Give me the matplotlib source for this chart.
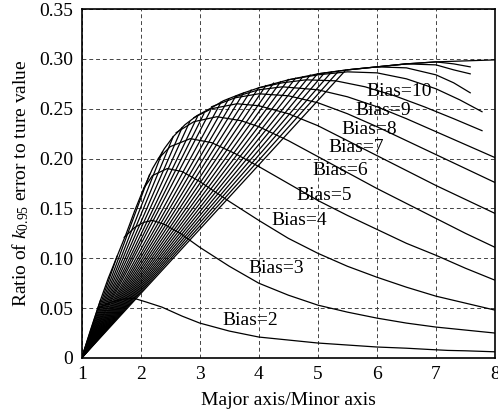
import matplotlib
matplotlib.use("Agg")
import matplotlib.pyplot as plt

plt.rcParams['font.family'] = 'Liberation Serif'
plt.rcParams['mathtext.fontset'] = 'custom'
plt.rcParams['mathtext.rm'] = 'Liberation Serif'
plt.rcParams['mathtext.it'] = 'Liberation Serif:italic'
plt.rcParams['font.size'] = 14

# upper envelope
env_x = [1.0, 1.15, 1.3, 1.45, 1.6, 1.75, 1.9, 2.05, 2.2, 2.4, 2.55, 2.75, 2.95, 3.2, 3.4,
         3.7, 4.0, 4.5, 5.0, 5.5, 6.0, 6.5, 7.0, 7.5, 8.0]
env_y = [0.0, 0.028, 0.055, 0.08, 0.102, 0.124, 0.148, 0.17, 0.19, 0.21, 0.222, 0.234, 0.243,
         0.251, 0.258, 0.265, 0.271, 0.279, 0.285, 0.289, 0.292, 0.295, 0.297, 0.298, 0.299]

# fan lines from (1, 0) to the envelope
fan_end_x = [1.32, 1.6, 2.15, 2.37, 2.55, 2.7, 2.83, 2.96, 3.07, 3.18, 3.36, 3.49, 3.61, 3.74,
             3.87, 3.99, 4.12, 4.25, 4.37, 4.5, 4.62, 4.74, 4.87, 4.99, 5.11, 5.23, 5.35, 5.47]
fan_end_y = [0.058, 0.102, 0.184, 0.207, 0.222, 0.231, 0.237, 0.242, 0.245, 0.248, 0.2565,
             0.26, 0.2626, 0.2658, 0.2687, 0.2706, 0.2732, 0.2757, 0.2771, 0.2793, 0.2806,
             0.2818, 0.2837, 0.2848, 0.2858, 0.2868, 0.2877, 0.2886]

# curves per bias
b2_x = [1.28, 1.5, 1.7, 1.88, 2.1, 2.36, 2.7, 3.0, 3.5, 4.0, 4.5, 5.0, 5.5, 6.0, 6.5, 6.9, 7.2, 7.5, 8.0]
b2_y = [0.050, 0.056, 0.059, 0.060, 0.056, 0.051, 0.042, 0.035, 0.027, 0.021, 0.018, 0.015,
        0.013, 0.011, 0.0098, 0.0085, 0.0076, 0.0072, 0.0062]
b3_x = [1.72, 1.9, 2.05, 2.2, 2.4, 2.67, 3.0, 3.5, 4.0, 4.5, 5.0, 5.5, 6.0, 6.5, 7.0, 7.5, 8.0]
b3_y = [0.121, 0.131, 0.136, 0.138, 0.134, 0.125, 0.111, 0.092, 0.075, 0.063, 0.053, 0.046,
        0.040, 0.035, 0.031, 0.028, 0.025]
b4_x = [2.05, 2.2, 2.45, 2.7, 3.0, 3.5, 4.0, 4.5, 5.0, 5.5, 6.0, 6.5, 7.0, 7.5, 8.0]
b4_y = [0.170, 0.183, 0.190, 0.187, 0.177, 0.157, 0.138, 0.120, 0.105, 0.092, 0.081, 0.071,
        0.062, 0.055, 0.048]
b5_x = [2.3, 2.5, 2.84, 3.2, 3.6, 4.0, 4.5, 5.0, 5.5, 6.0, 6.5, 7.0, 7.5, 8.0]
b5_y = [0.200, 0.212, 0.220, 0.216, 0.205, 0.192, 0.175, 0.158, 0.143, 0.129, 0.115, 0.103,
        0.090, 0.078]
b6_x = [2.6, 2.9, 3.29, 3.7, 4.0, 4.5, 5.0, 5.5, 6.0, 6.5, 7.0, 7.5, 8.0]
b6_y = [0.226, 0.237, 0.242, 0.238, 0.232, 0.218, 0.202, 0.186, 0.170, 0.155, 0.140, 0.125, 0.111]
b7_x = [2.9, 3.2, 3.63, 4.0, 4.5, 5.0, 5.5, 6.0, 6.5, 7.0, 7.5, 8.0]
b7_y = [0.241, 0.250, 0.255, 0.253, 0.245, 0.233, 0.218, 0.203, 0.188, 0.173, 0.159, 0.145]
b8_x = [3.2, 3.6, 4.0, 4.5, 5.0, 5.5, 6.0, 6.5, 7.0, 7.5, 8.0]
b8_y = [0.252, 0.261, 0.265, 0.263, 0.256, 0.245, 0.232, 0.218, 0.204, 0.19, 0.176]
b9_x = [3.6, 4.0, 4.4, 5.0, 5.5, 6.0, 6.5, 7.0, 7.5, 8.0]
b9_y = [0.262, 0.269, 0.272, 0.269, 0.262, 0.252, 0.24, 0.227, 0.214, 0.201]
b10_x = [4.0, 4.4, 4.8, 5.3, 5.8, 6.3, 6.8, 7.3, 7.78]
b10_y = [0.271, 0.276, 0.279, 0.278, 0.272, 0.263, 0.252, 0.24, 0.228]
b11_x = [4.5, 5.0, 5.5, 6.0, 6.5, 7.0, 7.4, 7.78]
b11_y = [0.279, 0.284, 0.287, 0.286, 0.280, 0.270, 0.259, 0.247]
b12_x = [5.0, 5.5, 6.0, 6.5, 7.0, 7.3, 7.58]
b12_y = [0.285, 0.289, 0.292, 0.291, 0.284, 0.276, 0.266]
b13_x = [5.5, 6.0, 6.5, 7.0, 7.3, 7.58]
b13_y = [0.289, 0.292, 0.295, 0.294, 0.289, 0.285]
b14_x = [6.0, 6.5, 7.0, 7.3, 7.58]
b14_y = [0.292, 0.295, 0.297, 0.295, 0.292]

curves_x = [b2_x, b3_x, b4_x, b5_x, b6_x, b7_x, b8_x, b9_x, b10_x, b11_x, b12_x, b13_x, b14_x]
curves_y = [b2_y, b3_y, b4_y, b5_y, b6_y, b7_y, b8_y, b9_y, b10_y, b11_y, b12_y, b13_y, b14_y]

labels = ['Bias=2', 'Bias=3', 'Bias=4', 'Bias=5', 'Bias=6', 'Bias=7', 'Bias=8', 'Bias=9', 'Bias=10']
label_x = [3.85, 4.29, 4.68, 5.10, 5.38, 5.65, 5.87, 6.10, 6.38]
label_y = [0.038, 0.090, 0.138, 0.163, 0.188, 0.211, 0.229, 0.248, 0.267]

fig = plt.figure(figsize=(4.98, 4.11), dpi=100)
ax = fig.add_axes([0.164, 0.129, 0.830, 0.849])

lw = 0.9
ax.plot(env_x, env_y, color='black', lw=lw)
for xe, ye in zip(fan_end_x, fan_end_y):
    ax.plot([1.0, xe], [0.0, ye], color='black', lw=lw)
for cx, cy in zip(curves_x, curves_y):
    ax.plot(cx, cy, color='black', lw=lw)

for t, x, y in zip(labels, label_x, label_y):
    ax.text(x, y, t, ha='center', va='center', fontsize=14)

ax.set_xlim(1, 8)
ax.set_ylim(0, 0.35)
ax.set_xticks([1, 2, 3, 4, 5, 6, 7, 8])
ax.set_yticks([0, 0.05, 0.10, 0.15, 0.20, 0.25, 0.30, 0.35])
ax.set_yticklabels(['0', '0.05', '0.10', '0.15', '0.20', '0.25', '0.30', '0.35'])
ax.tick_params(length=0, pad=6)
ax.grid(True, color='#444444', ls=(0, (4, 3)), lw=0.7)
for s in ax.spines.values():
    s.set_linewidth(1.2)

ax.set_xlabel('Major axis/Minor axis', labelpad=6)
ax.set_ylabel('Ratio of $k_{0.95}$ error to ture value', labelpad=6)

fig.savefig('out.png', dpi=100)
